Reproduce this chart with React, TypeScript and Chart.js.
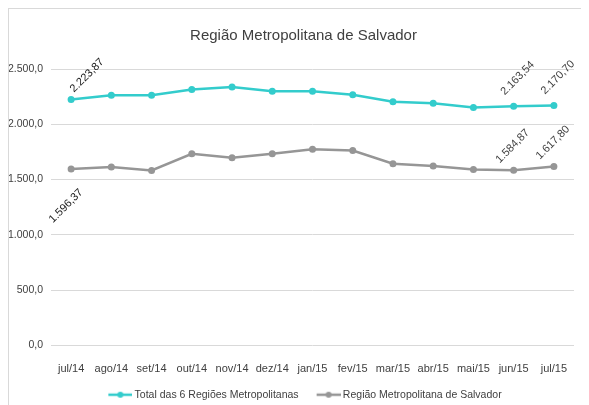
import React, { useEffect, useRef } from "react";
import { Chart, registerables } from "chart.js";

Chart.register(...registerables);

const categories = ["jul/14", "ago/14", "set/14", "out/14", "nov/14", "dez/14", "jan/15", "fev/15", "mar/15", "abr/15", "mai/15", "jun/15", "jul/15"];
const totalSeis = [2223.87, 2263, 2263, 2314, 2338, 2299, 2299, 2267, 2204, 2191, 2153, 2163.54, 2170.7];
const salvador = [1596.37, 1613, 1583, 1733, 1697, 1733, 1775, 1763, 1644, 1622, 1592, 1584.87, 1617.8];
const seriesNames = ["Total das 6 Regiões Metropolitanas", "Região Metropolitana de Salvador"];
const yTicks = [0, 500, 1000, 1500, 2000, 2500];
const labelledTotal = [0, 11, 12];
const labelledSalvador = [0, 11, 12];

const TEAL = "#33cccc";
const GRAY = "#969696";
const FONT = "'Liberation Sans', Arial, sans-serif";

const fmt = (v: number, d: number) =>
  v.toLocaleString("pt-BR", { minimumFractionDigits: d, maximumFractionDigits: d });

function legendIcon(color: string) {
  const c = document.createElement("canvas");
  c.width = 32;
  c.height = 8;
  const ctx = c.getContext("2d")!;
  ctx.strokeStyle = color;
  ctx.lineWidth = 2.5;
  ctx.beginPath();
  ctx.moveTo(8, 4);
  ctx.lineTo(32, 4);
  ctx.stroke();
  ctx.fillStyle = color;
  ctx.beginPath();
  ctx.arc(20, 4, 3, 0, Math.PI * 2);
  ctx.fill();
  return c;
}

const shiftBoxes = {
  id: "shiftBoxes",
  afterLayout(chart: any) {
    const t = chart.titleBlock;
    if (t) { t.left += 12; t.right += 12; }
    const l = chart.legend;
    if (l) { l.left += 11; l.right += 11; }
  },
};

const dataLabels = {
  id: "rotLabels",
  afterDatasetsDraw(chart: any) {
    const ctx = chart.ctx;
    const sets = [
      { ds: 0, idx: labelledTotal },
      { ds: 1, idx: labelledSalvador },
    ];
    ctx.save();
    ctx.font = `11px ${FONT}`;
    ctx.textAlign = "center";
    ctx.textBaseline = "middle";
    sets.forEach(({ ds, idx }) => {
      const meta = chart.getDatasetMeta(ds);
      const vals = chart.data.datasets[ds].data as number[];
      idx.forEach((i) => {
        const pt = meta.data[i];
        let dx = 4, dy = -28;
        if (ds === 0 && i === 0) { dx = 16; dy = -24; }
        if (ds === 1 && i === 0) { dx = -5; dy = 37; }
        if (ds === 1 && i !== 0) { dx = -1; dy = -24; }
        ctx.save();
        ctx.translate(pt.x + dx, pt.y + dy);
        ctx.rotate(-Math.PI / 4);
        ctx.fillStyle = i === 0 ? "#1a1a1a" : "#404040";
        ctx.fillText(fmt(vals[i], 2), 0, 0);
        ctx.restore();
      });
    });
    ctx.restore();
  },
};

export default function App() {
  const ref = useRef<HTMLCanvasElement>(null);
  useEffect(() => {
    const chart = new Chart(ref.current!, {
      type: "line",
      data: {
        labels: categories,
        datasets: [
          {
            label: seriesNames[0],
            data: totalSeis,
            borderColor: TEAL,
            backgroundColor: TEAL,
            borderWidth: 2.5,
            pointRadius: 3.5,
            pointBorderWidth: 0,
            pointStyle: "circle",
            tension: 0,
          },
          {
            label: seriesNames[1],
            data: salvador,
            borderColor: GRAY,
            backgroundColor: GRAY,
            borderWidth: 2.5,
            pointRadius: 3.5,
            pointBorderWidth: 0,
            pointStyle: "circle",
            tension: 0,
          },
        ],
      },
      options: {
        animation: false,
        responsive: false,
        maintainAspectRatio: false,
        layout: { padding: { left: 0, right: 15, top: 0, bottom: 0 } },
        plugins: {
          title: {
            display: true,
            text: "Região Metropolitana de Salvador",
            color: "#404040",
            font: { family: FONT, size: 15, weight: "normal" },
            padding: { top: 18, bottom: 24 },
          },
          legend: {
            position: "bottom",
            labels: {
              color: "#404040",
              font: { family: FONT, size: 10.5 },
              usePointStyle: true,
              pointStyleWidth: 26,
              padding: 13,
              generateLabels: (ch: any) =>
                ch.data.datasets.map((d: any, i: number) => ({
                  text: d.label,
                  pointStyle: legendIcon(d.borderColor),
                  fillStyle: d.borderColor,
                  strokeStyle: d.borderColor,
                  lineWidth: 0,
                  fontColor: "#404040",
                  datasetIndex: i,
                })),
            },
          },
          tooltip: { enabled: false },
        },
        scales: {
          x: {
            offset: true,
            grid: { display: false, drawTicks: false },
            border: { display: false },
            afterFit: (s: any) => {
              s.height = 31;
            },
            ticks: { color: "#404040", font: { family: FONT, size: 11 }, padding: 17, maxRotation: 0 },
          },
          y: {
            min: 0,
            max: 2500,
            afterBuildTicks: (s: any) => {
              s.ticks = yTicks.map((v) => ({ value: v }));
            },
            afterFit: (s: any) => {
              s.width = 42;
            },
            grid: { color: "#d9d9d9", drawTicks: false, lineWidth: 1 },
            border: { display: false },
            ticks: {
              color: "#404040",
              font: { family: FONT, size: 10.5 },
              padding: 8,
              callback: (v: any) => fmt(Number(v), 1),
            },
          },
        },
      },
      plugins: [shiftBoxes, dataLabels],
    });
    return () => chart.destroy();
  }, []);
  return (
    <div
      style={{
        width: 580,
        height: 396,
        borderTop: "1px solid #d9d9d9",
        borderLeft: "1px solid #d9d9d9",
        overflow: "hidden",
      }}
    >
      <canvas ref={ref} width={580} height={401} style={{ display: "block" }} />
    </div>
  );
}
